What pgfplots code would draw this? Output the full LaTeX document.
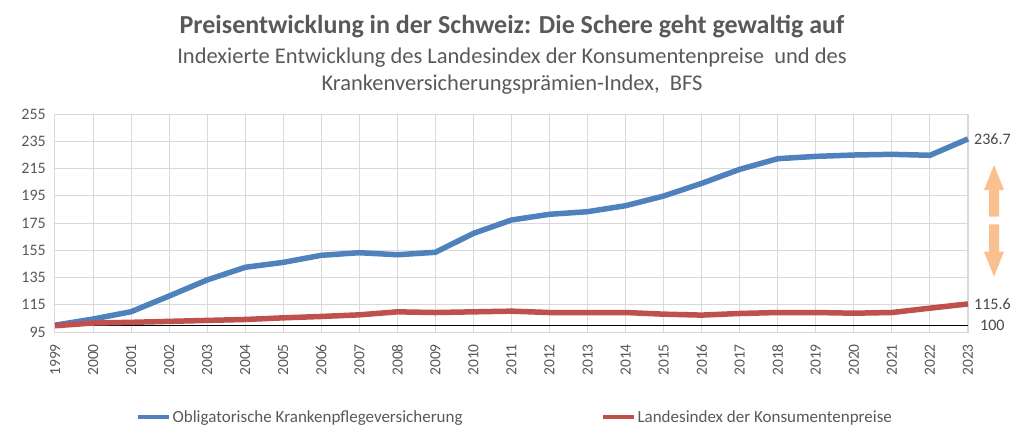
\documentclass[border=0pt]{standalone}
\usepackage{fontspec}
\setmainfont{Carlito}
\usepackage{pgfplots}
\pgfplotsset{compat=1.18}
\definecolor{txt}{HTML}{595959}
\definecolor{grd}{HTML}{D9D9D9}
\definecolor{blu}{HTML}{4F81BD}
\definecolor{rd}{HTML}{C0504D}
\definecolor{org}{HTML}{FAC090}
\begin{document}
\begin{tikzpicture}
\useasboundingbox (0pt,0pt) rectangle (1024pt,440pt);
\node[anchor=base, font=\fontsize{26}{30}\selectfont\bfseries, text=txt, inner sep=0pt] at (512pt,406pt) {Preisentwicklung in der Schweiz: Die Schere geht gewaltig auf};
\node[anchor=base, font=\fontsize{22.5}{26}\selectfont, text=txt, inner sep=0pt] at (512pt,376pt) {Indexierte Entwicklung des Landesindex der Konsumentenpreise\ \ und des};
\node[anchor=base, font=\fontsize{22.5}{26}\selectfont, text=txt, inner sep=0pt] at (512pt,349pt) {Krankenversicherungsprämien-Index,\ \ BFS};
\begin{axis}[
  at={(55pt,108pt)}, anchor=south west,
  scale only axis, width=913pt, height=218pt,
  xmin=1999, xmax=2023, ymin=95, ymax=255,
  xtick={1999,...,2023}, ytick={95,115,...,255},
  grid=major, grid style={grd, line width=1pt},
  axis line style={grd, line width=1pt},
  major tick length=0pt,
  /pgf/number format/assume math mode=true,
  /pgf/number format/1000 sep={},
  ticklabel style={font=\fontsize{16}{18}\selectfont, text=txt},
  xticklabel shift=12pt,
  xticklabel style={rotate=90, anchor=east, inner sep=0pt, font=\fontsize{15.5}{17}\selectfont},
  yticklabel style={anchor=east, inner xsep=9pt, inner ysep=0pt},
  legend style={at={(0.0854,-0.39)}, anchor=west, draw=none, fill=none,
    legend columns=2, font=\fontsize{17}{19}\selectfont, text=txt,
    nodes={inner xsep=1.5pt},
    /tikz/every even column/.append style={column sep=137pt}},
  legend cell align=left,
  legend image code/.code={\draw[#1, line width=4pt] (0pt,0pt) -- (31pt,0pt);},
  clip=false,
]
\addplot[black, line width=1.2pt, forget plot] coordinates {(1999,100) (2023,100)};
\addplot[blu, line width=5.5pt] coordinates {
(1999,100) (2000,104.5) (2001,109.9) (2002,121.4) (2003,133.2) (2004,142.5)
(2005,146.1) (2006,151.3) (2007,153.2) (2008,151.7) (2009,153.5) (2010,167.4)
(2011,177.2) (2012,181.4) (2013,183.3) (2014,187.7) (2015,194.8) (2016,204.1)
(2017,214.4) (2018,222.2) (2019,223.9) (2020,224.9) (2021,225.4) (2022,224.7)
(2023,236.7)};
\addlegendentry{Obligatorische Krankenpflegeversicherung}
\addplot[rd, line width=5.5pt] coordinates {
(1999,99.6) (2000,101.6) (2001,102.1) (2002,102.8) (2003,103.5) (2004,104.2)
(2005,105.4) (2006,106.4) (2007,107.6) (2008,109.8) (2009,109.3) (2010,109.8)
(2011,110.3) (2012,109.3) (2013,109.3) (2014,109.3) (2015,108.1) (2016,107.4)
(2017,108.6) (2018,109.3) (2019,109.3) (2020,108.8) (2021,109.3) (2022,112.5)
(2023,115.6)};
\addlegendentry{Landesindex der Konsumentenpreise}
\node[anchor=west, font=\fontsize{16}{18}\selectfont, text=txt!80!black, inner sep=0pt, xshift=6pt] at (axis cs:2023,236.7) {236.7};
\node[anchor=west, font=\fontsize{16}{18}\selectfont, text=txt!80!black, inner sep=0pt, xshift=6pt] at (axis cs:2023,115.6) {115.6};
\node[anchor=west, font=\fontsize{16}{18}\selectfont, text=txt!80!black, inner sep=0pt, xshift=12pt] at (axis cs:2023,100) {100};
\end{axis}
\fill[org] (994pt,275pt) -- (1004pt,250pt) -- (999pt,250pt) -- (999pt,223.3pt) -- (989pt,223.3pt) -- (989pt,250pt) -- (984pt,250pt) -- cycle;
\fill[org] (994pt,163.3pt) -- (1004pt,188.3pt) -- (999pt,188.3pt) -- (999pt,215.7pt) -- (989pt,215.7pt) -- (989pt,188.3pt) -- (984pt,188.3pt) -- cycle;
\end{tikzpicture}
\end{document}
